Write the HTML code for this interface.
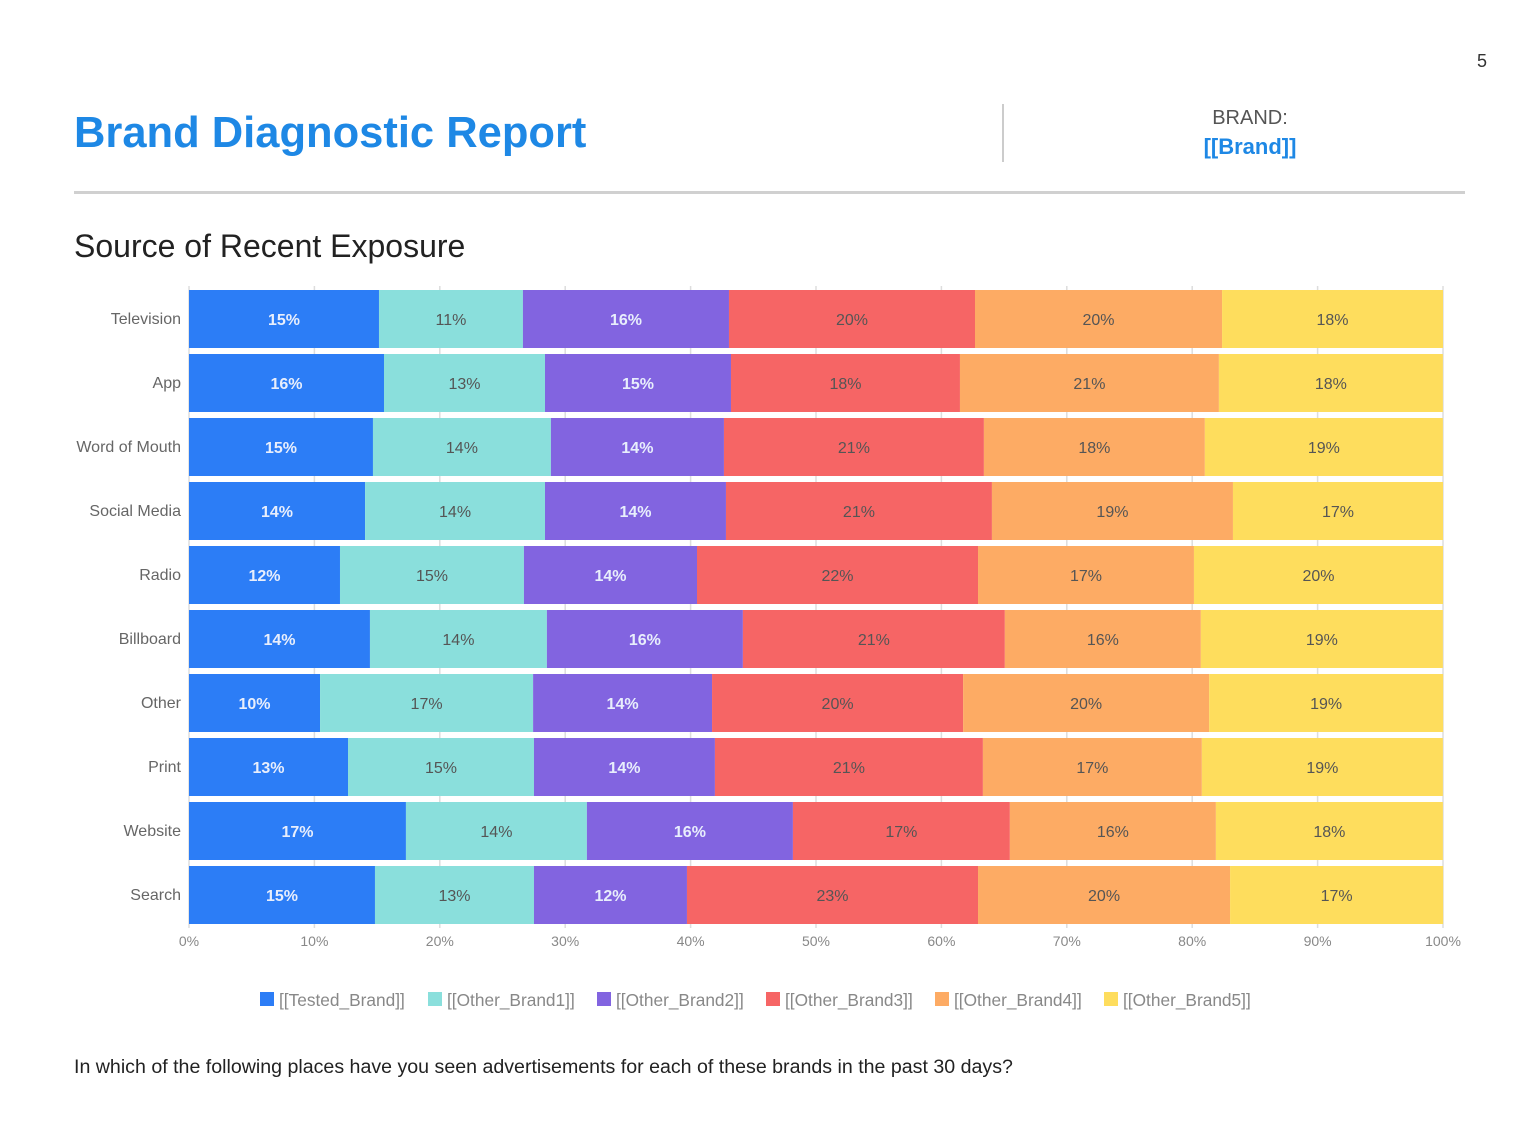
<!DOCTYPE html>
<html><head><meta charset="utf-8"><style>
body{margin:0;width:1522px;height:1142px;background:#fff;font-family:"Liberation Sans",sans-serif;position:relative;overflow:hidden}
.a{position:absolute}
</style></head><body>
<div class="a" style="left:1477px;top:51px;font-size:18px;color:#333">5</div>
<div class="a" style="left:74px;top:109px;font-size:43.5px;font-weight:bold;color:#1e88e5">Brand Diagnostic Report</div>
<div class="a" style="left:1002px;top:104px;width:2px;height:58px;background:#ccc"></div>
<div class="a" style="left:1150px;top:107px;width:200px;text-align:center;font-size:20px;color:#555">BRAND:</div>
<div class="a" style="left:1150px;top:134px;width:200px;text-align:center;font-size:22px;font-weight:bold;color:#1e88e5">[[Brand]]</div>
<div class="a" style="left:74px;top:191px;width:1391px;height:3px;background:#d0d0d0"></div>
<div class="a" style="left:74px;top:228px;font-size:32px;color:#222">Source of Recent Exposure</div>
<svg class="a" style="left:0;top:0" width="1522" height="1142" id="chart"></svg>
<div class="a" style="left:74px;top:1056px;font-size:19.6px;color:#222">In which of the following places have you seen advertisements for each of these brands in the past 30 days?</div>
<script>
const categories=["Television","App","Word of Mouth","Social Media","Radio","Billboard","Other","Print","Website","Search"];
const seriesNames=["[[Tested_Brand]]","[[Other_Brand1]]","[[Other_Brand2]]","[[Other_Brand3]]","[[Other_Brand4]]","[[Other_Brand5]]"];
const testedBrand=[15.15,15.55,14.67,14.04,12.04,14.43,10.45,12.68,17.30,14.83];
const otherBrand1=[11.48,12.84,14.19,14.35,14.67,14.11,16.99,14.83,14.43,12.68];
const otherBrand2=[16.43,14.83,13.80,14.43,13.80,15.63,14.27,14.43,16.43,12.20];
const otherBrand3=[19.62,18.26,20.73,21.21,22.41,20.89,20.02,21.37,17.30,23.21];
const otherBrand4=[19.70,20.65,17.62,19.22,17.22,15.63,19.62,17.46,16.43,20.10];
const otherBrand5=[17.62,17.86,18.98,16.75,19.86,19.30,18.66,19.22,18.10,16.99];
const xTicks=[0,10,20,30,40,50,60,70,80,90,100];
const series=[testedBrand,otherBrand1,otherBrand2,otherBrand3,otherBrand4,otherBrand5];
const colors=["#2c7df6","#8adfdc","#8264e0","#f66565","#fdab64","#fedd5d"];
const labelCol=["#e8eefc","#555","#e8eefc","#555","#555","#555"];
const bold=[1,0,1,0,0,0];
const NS="http://www.w3.org/2000/svg";
const svg=document.getElementById('chart');
const x0=189,x1=1443,top0=290,pitch=64,bh=58;
const xs=v=>x0+(x1-x0)*v/100;
const ys=i=>top0+i*pitch;
function mk(t,a){const e=document.createElementNS(NS,t);for(const k in a)e.setAttribute(k,a[k]);svg.appendChild(e);return e;}
xTicks.forEach(t=>{
 const l=mk('line',{x1:xs(t),x2:xs(t),y1:top0-4,y2:top0+pitch*10-2,stroke:'#ddd','stroke-width':1.5});
 
 
 const tx=mk('text',{x:xs(t),y:946,'text-anchor':'middle','font-size':14,fill:'#888'});
 tx.textContent=t+'%';
 
 
});
categories.forEach((c,i)=>{
 const tx=mk('text',{x:181,y:ys(i)+bh/2+5,'text-anchor':'end','font-size':16,fill:'#666'});
 tx.textContent=c;
 
 
 let acc=0;
 series.forEach((s,j)=>{
  const v=s[i];
  const r=mk('rect',{x:xs(acc),y:ys(i),width:xs(acc+v)-xs(acc),height:bh,fill:colors[j]});
  
  
  const lb=mk('text',{x:(xs(acc)+xs(acc+v))/2,y:ys(i)+bh/2+6,'text-anchor':'middle','font-size':16,fill:labelCol[j],'font-weight':bold[j]?'bold':'normal'});
  lb.textContent=Math.round(v)+'%';
  
  
  acc+=v;
 });
});
const lx=[260,428,597,766,935,1104];
seriesNames.forEach((n,j)=>{
 const r=mk('rect',{x:lx[j],y:992,width:14,height:14,fill:colors[j]});
 
 
 const t=mk('text',{x:lx[j]+19,y:1006,'font-size':17.3,fill:'#888'});
 t.textContent=n;
 
 
});
</script>
</body></html>
